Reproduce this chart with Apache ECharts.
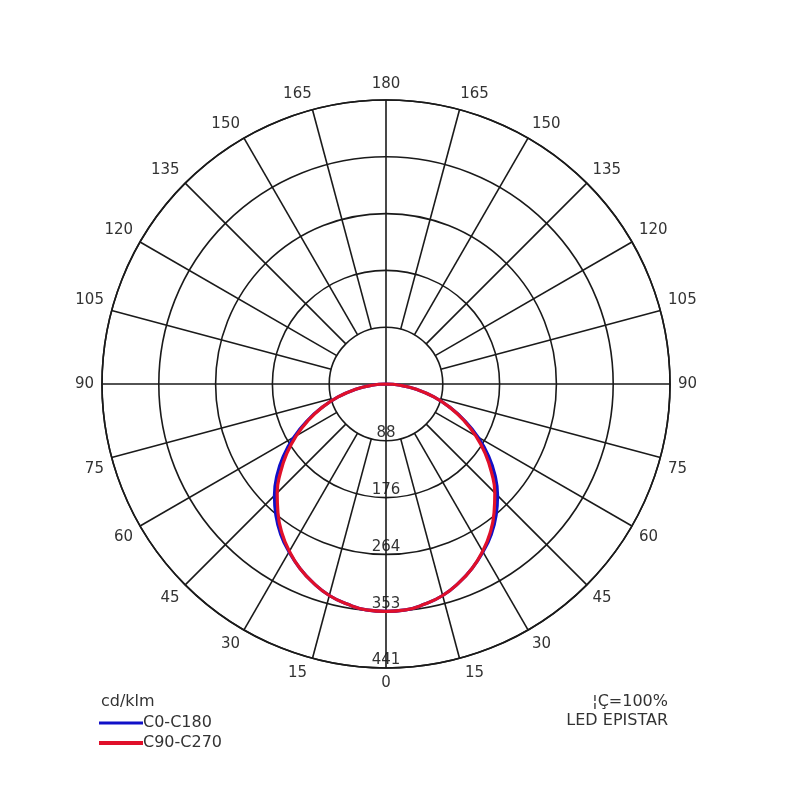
<!DOCTYPE html>
<html>
<head>
<meta charset="utf-8">
<script src="https://cdn.jsdelivr.net/npm/echarts@6/dist/echarts.min.js"></script>
<style>html,body{margin:0;background:#fff}#chart{width:800px;height:800px}</style>
</head>
<body>
<div id="chart"></div>
<script>
// gamma angles (deg from nadir) and intensity in cd/klm
var gammaAngles = [0, 5, 10, 15, 20, 25, 30, 35, 40, 45, 50, 55, 60, 65, 70, 75, 80, 85, 90];
var c0c180  = [353, 352, 347, 340, 329, 316, 301, 285, 266, 245, 221, 194, 165, 135, 105, 77, 49, 22, 0];
var c90c270 = [353, 352, 347, 340, 329, 316, 300, 282, 261, 239, 214, 188, 161, 133, 105, 77, 49, 22, 0];

var ringValues = [88.2, 176.4, 264.6, 352.8, 441];
var ringLabels = ['88', '176', '264', '353', '441'];
var spokeAngles = [15, 30, 45, 60, 75, 90, 105, 120, 135, 150, 165, 180,
                   195, 210, 225, 240, 255, 270, 285, 300, 315, 330, 345, 0];
var crossAngles = [0, 90, 180, 270];

var lineColor = '#1a1a1a';
var textColor = '#333';

// nudge some angle labels off the spokes, like the source plot
var labelStyle = {
  165: 'pl', 195: 'pr', 15: 'pl', 345: 'pr', 105: 'up', 255: 'up', 75: 'dn', 285: 'dn'
};

// both halves of the C-plane: right side uses 360-gamma, left side gamma
function mirror(vals) {
  var pts = [];
  for (var i = gammaAngles.length - 1; i >= 0; i--) pts.push([vals[i], 360 - gammaAngles[i]]);
  for (var j = 1; j < gammaAngles.length; j++) pts.push([vals[j], gammaAngles[j]]);
  return pts;
}

var series = [];
spokeAngles.forEach(function (a) {
  var from = crossAngles.indexOf(a) >= 0 ? 0 : ringValues[0];
  series.push({
    type: 'line', coordinateSystem: 'polar', silent: true, symbol: 'none',
    data: [[from, a], [ringValues[4], a]],
    lineStyle: { color: lineColor, width: 1.6 }, z: 1
  });
});
series.push({
  name: 'C0-C180', type: 'line', coordinateSystem: 'polar', smooth: true, symbol: 'none',
  data: mirror(c0c180), lineStyle: { color: '#1010c8', width: 3.2 }, itemStyle: { color: '#1010c8' }, z: 3
});
series.push({
  name: 'C90-C270', type: 'line', coordinateSystem: 'polar', smooth: true, symbol: 'none',
  data: mirror(c90c270), lineStyle: { color: '#e0102a', width: 3.2 }, itemStyle: { color: '#e0102a' }, z: 4
});

var chart = echarts.init(document.getElementById('chart'));
chart.setOption({
  animation: false,
  backgroundColor: '#fff',
  textStyle: { fontFamily: 'DejaVu Sans' },
  title: [
    { text: 'cd/klm', left: 101, top: 694, padding: 0,
      textStyle: { fontSize: 16, fontWeight: 'normal', color: textColor } },
    { text: '¦Ç=100%', right: 132, top: 694, padding: 0,
      textStyle: { fontSize: 16, fontWeight: 'normal', color: textColor } },
    { text: 'LED EPISTAR', right: 132, top: 713, padding: 0,
      textStyle: { fontSize: 16, fontWeight: 'normal', color: textColor } }
  ],
  legend: {
    orient: 'vertical', left: 99, top: 713, padding: 0, itemWidth: 44, itemHeight: 4, itemGap: 0,
    textStyle: { fontSize: 16, color: textColor, lineHeight: 20, padding: [0, 0, 0, -5] },
    data: [
      { name: 'C0-C180', icon: 'path://M0 0H44V3H0Z' },
      { name: 'C90-C270', icon: 'path://M0 0H44V4H0Z' }
    ]
  },
  polar: { center: [386, 384], radius: 284 },
  angleAxis: {
    type: 'value', min: 0, max: 360, interval: 15, startAngle: -90, clockwise: true,
    axisLine: { lineStyle: { color: lineColor, width: 1.6 } },
    axisTick: { show: false },
    splitLine: { show: false },
    axisLabel: {
      margin: 8, fontSize: 15, color: textColor,
      formatter: function (v) {
        if (v === 360) return '';
        var t = String(v <= 180 ? v : 360 - v);
        return labelStyle[v] ? '{' + labelStyle[v] + '|' + t + '}' : t;
      },
      rich: {
        pl: { fontSize: 15, padding: [0, 26, 0, 0] },
        pr: { fontSize: 15, padding: [0, 0, 0, 26] },
        up: { fontSize: 15, padding: [0, 0, 16, 0] },
        dn: { fontSize: 15, padding: [20, 0, 0, 0] }
      }
    }
  },
  radiusAxis: {
    type: 'value', min: 0, max: 441, interval: 88.2,
    axisLine: { show: false },
    axisTick: { show: false },
    splitLine: { show: true, lineStyle: { color: lineColor, width: 1.6 } },
    axisLabel: {
      margin: 0, fontSize: 15, color: textColor, align: 'center', verticalAlign: 'bottom',
      formatter: function (v) {
        var i = Math.round(v / 88.2) - 1;
        return i >= 0 ? ringLabels[i] : '';
      }
    }
  },
  series: series
});
</script>
</body>
</html>
